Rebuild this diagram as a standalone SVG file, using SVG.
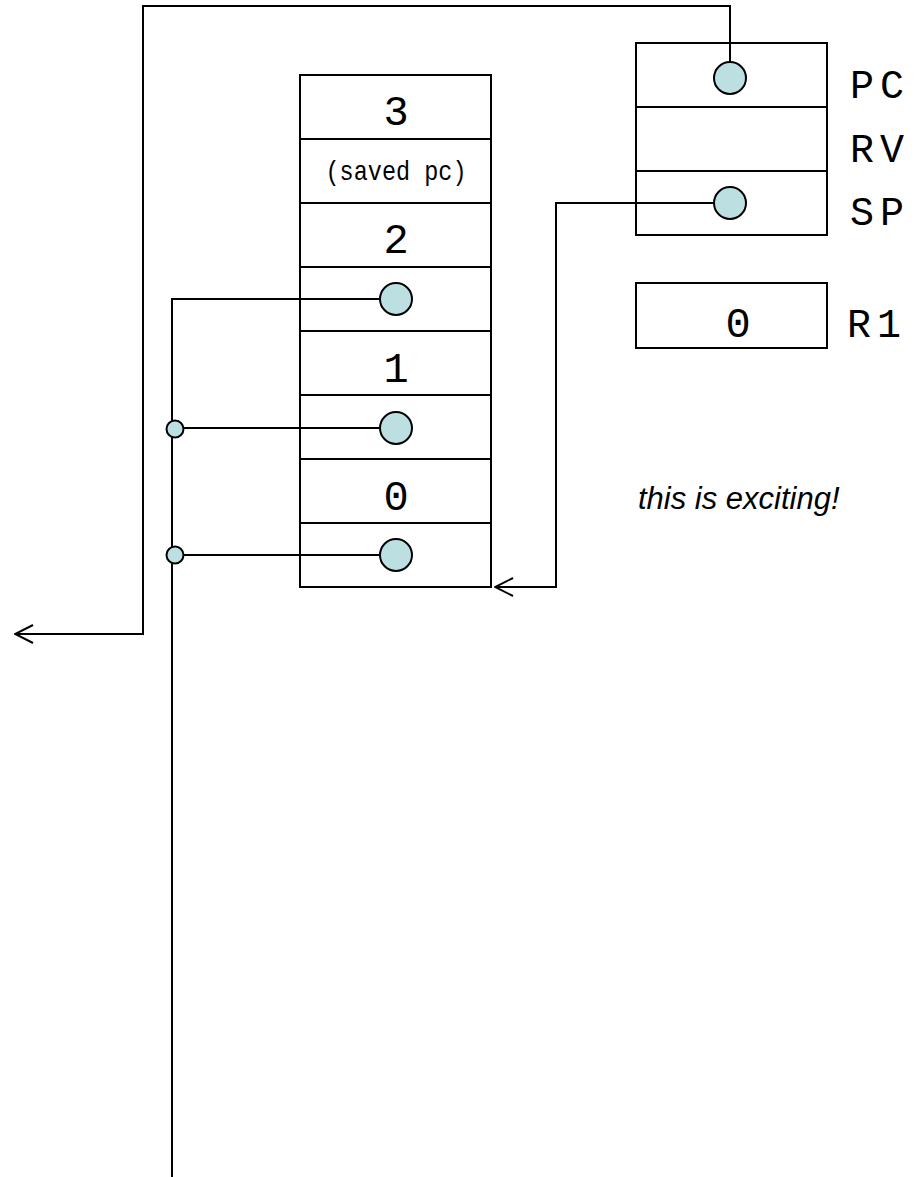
<svg xmlns="http://www.w3.org/2000/svg" width="916" height="1177" viewBox="0 0 916 1177">
  <defs>
    <style>
      .box { fill: none; stroke: #000; stroke-width: 2; }
      .ln { fill: none; stroke: #000; stroke-width: 2; }
      .ptr { fill: #BCE0E2; stroke: #000; stroke-width: 2; }
      .dig { font-family: "Liberation Mono", "DejaVu Sans Mono", monospace; font-size: 42px; fill: #000; text-anchor: middle; }
      .reg { font-family: "Liberation Mono", "DejaVu Sans Mono", monospace; font-size: 40px; fill: #000; letter-spacing: 6px; }
      .small { font-family: "Liberation Mono", "DejaVu Sans Mono", monospace; font-size: 28px; fill: #000; text-anchor: middle; }
      .note { font-family: "Liberation Sans", Arial, sans-serif; font-size: 31px; font-style: italic; fill: #000; }
    </style>
    <marker id="open" viewBox="0 0 20 20" refX="19" refY="10" markerWidth="20" markerHeight="20" markerUnits="userSpaceOnUse" orient="auto">
      <path d="M1,1 L19,10 L1,19" fill="none" stroke="#000" stroke-width="2"/>
    </marker>
  </defs>
  <rect width="916" height="1177" fill="#fff"/>

  <g id="stack">
    <rect class="box" x="300" y="75" width="191" height="512"/>
    <path class="ln" d="M300,139 H491 M300,203 H491 M300,267 H491 M300,331 H491 M300,395 H491 M300,459 H491 M300,523 H491"/>
    <text class="dig" x="396" y="125">3</text>
    <text class="small" x="396" y="180" textLength="141" lengthAdjust="spacingAndGlyphs">(saved pc)</text>
    <text class="dig" x="396" y="253">2</text>
    <text class="dig" x="396" y="382">1</text>
    <text class="dig" x="396" y="510">0</text>
  </g>

  <g id="registers">
    <rect class="box" x="636" y="43" width="191" height="192"/>
    <path class="ln" d="M636,107 H827 M636,171 H827"/>
    <text class="reg" x="850" y="98">PC</text>
    <text class="reg" x="850" y="162">RV</text>
    <text class="reg" x="850" y="225">SP</text>
  </g>

  <g id="r1">
    <rect class="box" x="636" y="283" width="191" height="65"/>
    <text class="dig" x="738" y="337">0</text>
    <text class="reg" x="847" y="337">R1</text>
  </g>

  <g id="note">
    <text class="note" x="638" y="509">this is exciting!</text>
  </g>

  <g id="connectors">
    <path class="ln" d="M730,62 V6 H143 V634 H15" marker-end="url(#open)"/>
    <path class="ln" d="M714,203 H556 V587 H495" marker-end="url(#open)"/>
    <path class="ln" d="M380,299 H172 V1177"/>
    <path class="ln" d="M380,428 H175"/>
    <path class="ln" d="M380,555 H175"/>
  </g>

  <g id="pointers">
    <circle class="ptr" cx="730" cy="78" r="16"/>
    <circle class="ptr" cx="730" cy="203" r="16"/>
    <circle class="ptr" cx="396" cy="299" r="16"/>
    <circle class="ptr" cx="396" cy="428" r="16"/>
    <circle class="ptr" cx="396" cy="555" r="16"/>
    <circle class="ptr" cx="175" cy="429" r="8.5"/>
    <circle class="ptr" cx="175" cy="555" r="8.5"/>
  </g>
</svg>
